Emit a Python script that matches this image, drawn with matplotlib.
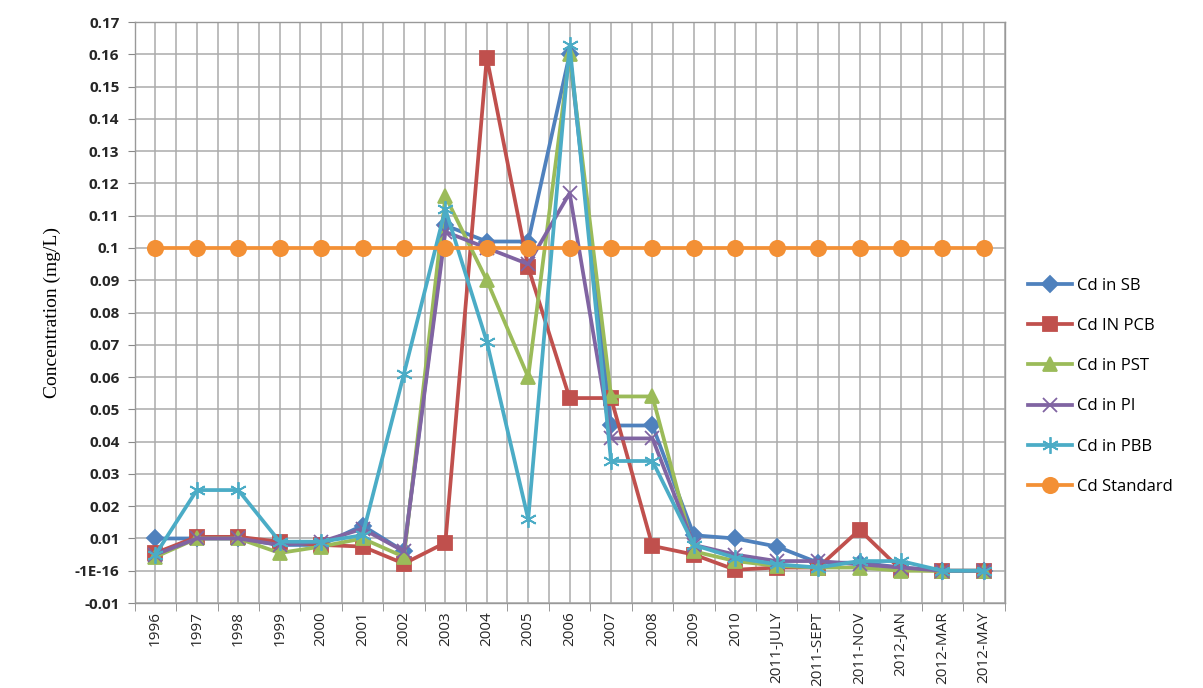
import numpy as np
import matplotlib
matplotlib.use("Agg")
import matplotlib.pyplot as plt
from matplotlib.ticker import FixedLocator, FixedFormatter

# Categories and series values (mg/L)
categories = ["1996", "1997", "1998", "1999", "2000", "2001", "2002", "2003", "2004",
              "2005", "2006", "2007", "2008", "2009", "2010", "2011-JULY", "2011-SEPT",
              "2011-NOV", "2012-JAN", "2012-MAR", "2012-MAY"]

cd_sb = [0.010, 0.010, 0.010, 0.008, 0.008, 0.014, 0.006, 0.107, 0.102, 0.102, 0.160,
         0.045, 0.045, 0.011, 0.010, 0.0075, 0.0025, 0.0025, 0.001, 0.0, 0.0]
cd_pcb = [0.0055, 0.0105, 0.0105, 0.009, 0.008, 0.0075, 0.0022, 0.0087, 0.159, 0.094, 0.0535,
          0.0535, 0.0077, 0.005, 0.0003, 0.001, 0.001, 0.0127, 0.0003, 0.0, 0.0]
cd_pst = [0.0043, 0.010, 0.010, 0.0055, 0.0075, 0.010, 0.0043, 0.116, 0.090, 0.060, 0.160,
          0.054, 0.054, 0.006, 0.003, 0.0015, 0.001, 0.001, 0.0, 0.0, 0.0]
cd_pi = [0.005, 0.010, 0.010, 0.008, 0.009, 0.013, 0.006, 0.105, 0.100, 0.095, 0.117,
         0.041, 0.041, 0.008, 0.005, 0.003, 0.003, 0.002, 0.001, 0.0, 0.0]
cd_pbb = [0.005, 0.025, 0.025, 0.009, 0.009, 0.011, 0.061, 0.112, 0.071, 0.016, 0.163,
          0.034, 0.034, 0.008, 0.004, 0.002, 0.001, 0.003, 0.003, 0.0, 0.0]
cd_standard = [0.1] * len(categories)

y_ticks = [-0.01, 0.0, 0.01, 0.02, 0.03, 0.04, 0.05, 0.06, 0.07, 0.08, 0.09, 0.10,
           0.11, 0.12, 0.13, 0.14, 0.15, 0.16, 0.17]
y_labels = ["-0.01", "-1E-16", "0.01", "0.02", "0.03", "0.04", "0.05", "0.06", "0.07",
            "0.08", "0.09", "0.1", "0.11", "0.12", "0.13", "0.14", "0.15", "0.16", "0.17"]

x = np.arange(len(categories))

fig = plt.figure(figsize=(12.03, 6.88), dpi=100)
ax = fig.add_axes([0.112, 0.1235, 0.723, 0.8445])

series = [
    ("Cd in SB", cd_sb, "#4F81BD", "D", 8),
    ("Cd IN PCB", cd_pcb, "#C0504D", "s", 10),
    ("Cd in PST", cd_pst, "#9BBB59", "^", 10),
    ("Cd in PI", cd_pi, "#8064A2", "x", 10),
    ("Cd in PBB", cd_pbb, "#4BACC6", (6, 2, 0), 12),
    ("Cd Standard", cd_standard, "#F39035", "o", 11),
]
for name, vals, col, mk, ms in series:
    ax.plot(x, vals, color=col, lw=2.7, marker=mk, markersize=ms,
            markeredgecolor=col, markerfacecolor=col, markeredgewidth=1.3,
            label=name, zorder=3)

ax.set_xlim(-0.5, len(categories) - 0.5)
ax.set_ylim(-0.01, 0.17)
ax.yaxis.set_major_locator(FixedLocator(y_ticks))
ax.yaxis.set_major_formatter(FixedFormatter(y_labels))
ax.set_xticks(x)
ax.set_xticklabels(categories, rotation=90)
ax.set_xticks(np.arange(-0.5, len(categories), 1.0), minor=True)

ax.grid(True, which="major", color="#ABABAB", lw=1.1, zorder=0)
ax.grid(True, which="minor", axis="x", color="#ABABAB", lw=1.1, zorder=0)
ax.tick_params(axis="x", which="major", length=0, labelsize=11, labelcolor="#262626", pad=6)
ax.tick_params(axis="x", which="minor", length=6, color="#888888")
ax.tick_params(axis="y", length=5, color="#888888", labelsize=11, labelcolor="#262626", pad=6)
for lbl in ax.get_xticklabels():
    lbl.set_fontfamily("Open Sans")
for lbl in ax.get_yticklabels():
    lbl.set_fontfamily("Open Sans")
    lbl.set_fontweight("bold")
for s in ax.spines.values():
    s.set_color("#999999")
    s.set_linewidth(1.0)

ax.set_ylabel("Concentration (mg/L)", fontsize=14, family="Liberation Serif", labelpad=10)

leg = ax.legend(loc="center left", bbox_to_anchor=(1.01, 0.373), frameon=False,
                prop={"family": "Open Sans", "size": 12}, handlelength=2.6,
                labelspacing=1.45, handletextpad=0.3)

fig.savefig("out.png", dpi=100)
